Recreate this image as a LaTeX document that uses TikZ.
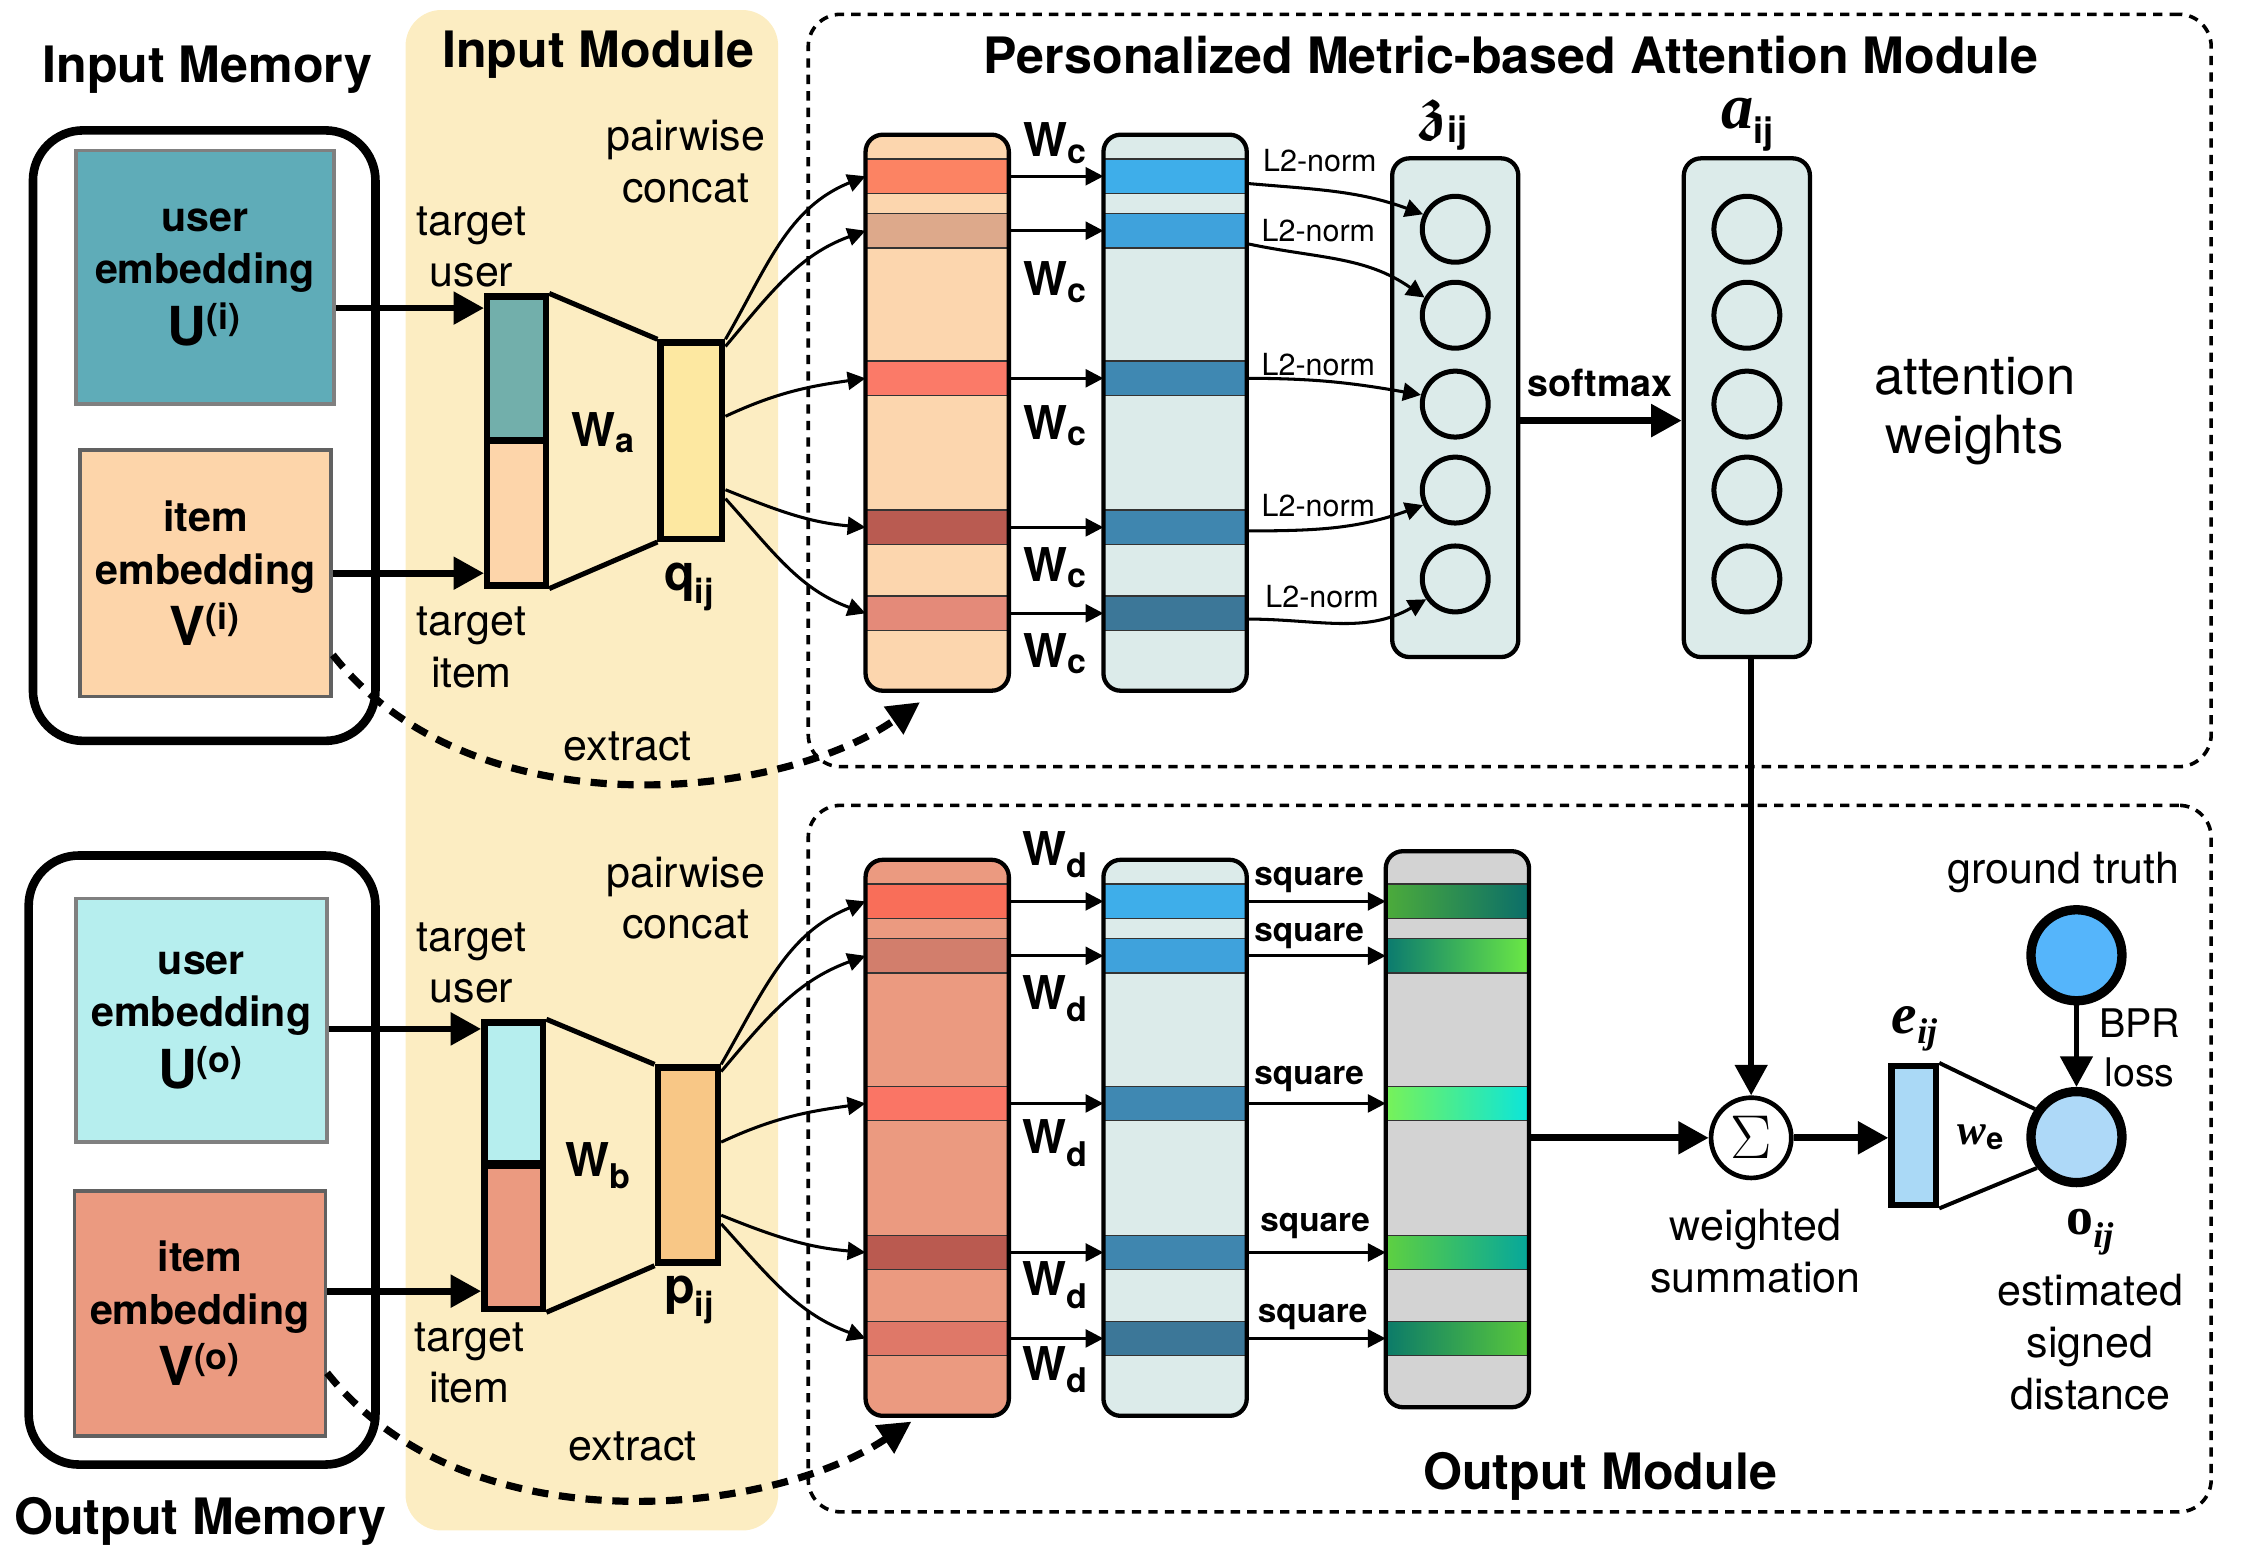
\documentclass[tikz,border=0pt]{standalone}
\usepackage{amsmath,amssymb}
\usepackage{fontspec}
\setmainfont{TeX Gyre Heros}
\newfontfamily\tms{Liberation Serif}
\usetikzlibrary{arrows.meta,calc,positioning}

\definecolor{inbg}{HTML}{FCEDC2}
\definecolor{uembi}{HTML}{5FACB8}
\definecolor{iembi}{HTML}{FDD5AA}
\definecolor{uembo}{HTML}{B6EEEE}
\definecolor{iembo}{HTML}{EB9A80}
\definecolor{cati}{HTML}{72AFAB}
\definecolor{qbar}{HTML}{FDE8A1}
\definecolor{pbar}{HTML}{F8C786}
\definecolor{keyA}{HTML}{FCD6AE}
\definecolor{paleblue}{HTML}{DCEBEA}
\definecolor{sqgray}{HTML}{D3D3D3}
\definecolor{a1c1}{HTML}{FC8363}
\definecolor{a1c2}{HTML}{DDA98B}
\definecolor{a1c3}{HTML}{FB7A68}
\definecolor{a1c4}{HTML}{B95B51}
\definecolor{a1c5}{HTML}{E48A79}
\definecolor{a2c1}{HTML}{F96E59}
\definecolor{a2c2}{HTML}{D27E6C}
\definecolor{a2c3}{HTML}{FA7565}
\definecolor{a2c4}{HTML}{BA5A50}
\definecolor{a2c5}{HTML}{DF7868}
\definecolor{bc1}{HTML}{3EAEEA}
\definecolor{bc2}{HTML}{3FA2DC}
\definecolor{bc3}{HTML}{3F88B2}
\definecolor{bc4}{HTML}{3F86AF}
\definecolor{bc5}{HTML}{3C7798}
\definecolor{g1l}{HTML}{4CAB3B}
\definecolor{g1r}{HTML}{0B6E69}
\definecolor{g2l}{HTML}{0B7A6F}
\definecolor{g2r}{HTML}{6BE845}
\definecolor{g3l}{HTML}{77F259}
\definecolor{g3r}{HTML}{0CE5D9}
\definecolor{g4l}{HTML}{5ED041}
\definecolor{g4r}{HTML}{06A79B}
\definecolor{g5l}{HTML}{0C7B69}
\definecolor{g5r}{HTML}{59C83B}
\definecolor{ebar}{HTML}{AAD9F6}
\definecolor{obar}{HTML}{AED9F8}
\definecolor{gtc}{HTML}{55B5FB}

\newcommand{\Wsub}[1]{{\fontsize{13}{13}\selectfont W}\textsubscript{\fontsize{9.5}{9.5}\selectfont #1}}
\newcommand{\vsym}[2]{{\fontsize{14}{14}\selectfont #1}\textsubscript{\fontsize{9.5}{9.5}\selectfont #2}}
\newcommand{\embsym}[2]{{\fontsize{15}{14}\selectfont #1}\textsuperscript{\fontsize{10}{10}\selectfont #2}}

\tikzset{
  memory/.style={draw, line width=2.4pt, rounded corners=14pt, minimum width=95.6pt, minimum height=170.4pt, inner sep=0pt},
  embed/.style={draw=black!50, line width=1pt, inner sep=0pt, align=center, font=\bfseries\fontsize{11.5}{14.6}\selectfont},
  column/.style={rounded corners=4.8pt, minimum width=39.6pt, minimum height=154.8pt, inner sep=0pt},
  stripe/.style={draw=black!80, line width=0.4pt, minimum width=39.6pt, minimum height=9.6pt, inner sep=0pt},
  neuron/.style={circle, draw, line width=1.4pt, minimum size=18.4pt, inner sep=0pt},
  vecbar/.style={draw, line width=1.8pt, inner sep=0pt, minimum width=16.4pt},
  module/.style={draw, line width=1pt, dash pattern=on 2.6pt off 2pt, rounded corners=9pt, minimum width=391.6pt, inner sep=0pt},
  thinarrow/.style={-{Triangle[length=5pt,width=5pt]}, line width=0.85pt},
  thickarrow/.style={-{Triangle[length=8.5pt,width=8.8pt]}, line width=1.9pt},
  extractarrow/.style={-{Triangle[length=9pt,width=9pt]}, line width=2pt, dash pattern=on 4.5pt off 3pt},
  title/.style={font=\bfseries\fontsize{14}{16}\selectfont, inner sep=1pt},
  lbl/.style={font=\fontsize{12}{14.4}\selectfont, align=center},
  wlbl/.style={font=\bfseries},
  l2lbl/.style={font=\fontsize{8.5}{8.5}\selectfont},
  sqlbl/.style={font=\bfseries\fontsize{9.3}{9.3}\selectfont}
}

\begin{document}
\begin{tikzpicture}[x=0.4pt, y=-0.4pt]
\useasboundingbox (0,0) rectangle (1568,1090);

% module backgrounds
\node[fill=inbg, rounded corners=10pt, minimum width=104pt, minimum height=424.4pt, inner sep=0pt] (inbgbox) at (413,537.5) {};
\node[module, minimum height=210pt] (attmod) at (1053.5,272.5) {};
\node[module, minimum height=197.2pt] (outmod) at (1053.5,808.5) {};
\node[title] (inmodt) at (417.5,38.2) {Input Module};
\node[title] (attmodt) at (1054.5,38.2) {Personalized Metric-based Attention Module};
\node[title] (outmodt) at (1116.5,1030) {Output Module};

% memories
\node[memory] (inmem) at (142.5,304) {};
\node[memory, minimum width=96.8pt, minimum height=170pt] (outmem) at (141,809.5) {};
\node[title] (inmemt) at (144.7,48.6) {Input Memory};
\node[title] (outmemt) at (139.6,1061.6) {Output Memory};
\node[embed, fill=uembi, minimum width=72pt, minimum height=70.8pt] (uembi) at (143,193.5) {user\\embedding\\[2.5pt]\embsym{U}{(i)}};
\node[embed, fill=iembi, draw=black!62, minimum width=70pt, minimum height=68.8pt] (iembi) at (143.5,400) {item\\embedding\\[2.5pt]\embsym{V}{(i)}};
\node[embed, fill=uembo, minimum width=70pt, minimum height=68pt] (uembo) at (140.5,712) {user\\embedding\\[2.5pt]\embsym{U}{(o)}};
\node[embed, fill=iembo, draw=black!62, minimum width=70pt, minimum height=68.4pt] (iembo) at (139.5,916.5) {item\\embedding\\[2.5pt]\embsym{V}{(o)}};

% input module
\node[lbl] (pci) at (478.5,112.7) {pairwise\\concat};
\node[lbl] (pco) at (478.5,626.8) {pairwise\\concat};
\node[lbl] (tui) at (329,172.3) {target\\user};
\node[lbl] (tii) at (329,452) {target\\item};
\node[lbl] (tuo) at (329,672) {target\\user};
\node[lbl] (tio) at (327.5,951) {target\\item};
\node[vecbar, fill=cati, minimum height=40pt] (cui) at (360.5,257) {};
\node[vecbar, fill=iembi, minimum height=40.4pt] (cli) at (360.5,358) {};
\node[vecbar, fill=qbar, minimum width=17.2pt, minimum height=54.8pt] (qv) at (482.5,307.5) {};
\node[vecbar, fill=uembo, minimum height=39.2pt] (cuo) at (358.5,762.5) {};
\node[vecbar, fill=iembo, minimum height=40pt] (clo) at (358.5,863.5) {};
\node[vecbar, fill=pbar, minimum width=16.8pt, minimum height=54.4pt] (pv) at (480,813) {};
\draw[line width=1.4pt] (cui.north east) -- (qv.north west) (cli.south east) -- (qv.south west);
\draw[line width=1.4pt] (cuo.north east) -- (pv.north west) (clo.south east) -- (pv.south west);
\node[wlbl] (wa) at (421.5,302) {\Wsub{a}};
\node[wlbl] (wb) at (417.6,813.4) {\Wsub{b}};
\node[wlbl] (qlbl) at (481.3,409.6) {\vsym{q}{ij}};
\node[wlbl] (plbl) at (481.4,907) {\vsym{p}{ij}};
\node[lbl] (exti) at (438,520.8) {extract};
\node[lbl] (exto) at (441.5,1009.6) {extract};

% key and value columns
\foreach \cx/\cy/\nm/\cf in {654/288/A1/keyA, 820/288/B1/paleblue, 654/794/A2/iembo, 820/794/B2/paleblue, 1017/788/C2/sqgray}
  \node[column, fill=\cf] (\nm) at (\cx,\cy) {};
\foreach \y/\ca/\cb [count=\i] in {123/a1c1/bc1, 161/a1c2/bc2, 264/a1c3/bc3, 368/a1c4/bc4, 428/a1c5/bc5} {
  \node[stripe, fill=\ca] (a1s\i) at (654,\y) {};
  \node[stripe, fill=\cb] (b1s\i) at (820,\y) {};
}
\foreach \y/\ca/\cb/\gl/\gr [count=\i] in {629/a2c1/bc1/g1l/g1r, 667/a2c2/bc2/g2l/g2r, 770/a2c3/bc3/g3l/g3r, 874/a2c4/bc4/g4l/g4r, 934/a2c5/bc5/g5l/g5r} {
  \node[stripe, fill=\ca] (a2s\i) at (654,\y) {};
  \node[stripe, fill=\cb] (b2s\i) at (820,\y) {};
  \node[stripe, left color=\gl, right color=\gr] (c2s\i) at (1017,\y) {};
}
\foreach \nm in {A1,B1,A2,B2,C2}
  \draw[line width=1.2pt, rounded corners=4.8pt] (\nm.north west) rectangle (\nm.south east);

% attention columns
\node[column, fill=paleblue, draw, line width=1.2pt, minimum width=35.2pt, minimum height=139.2pt] (zcol) at (1015.5,284.5) {};
\node[column, fill=paleblue, draw, line width=1.2pt, minimum width=35.2pt, minimum height=139.2pt] (acol) at (1219,284.5) {};
\foreach \y [count=\i] in {160,220,282,342,404} {
  \node[neuron] (zn\i) at (1015.5,\y) {};
  \node[neuron] (att\i) at (1219,\y) {};
}
\node[inner sep=0pt] (zlbl) at (1008,87) {{\fontsize{17}{17}\selectfont$\boldsymbol{\mathfrak{z}}$}\textsubscript{\bfseries\fontsize{10}{10}\selectfont ij}};
\node[inner sep=0pt] (albl) at (1220,87) {{\tms\bfseries\itshape\fontsize{18}{18}\selectfont a}\textsubscript{\bfseries\fontsize{10}{10}\selectfont ij}};
\node[lbl, font=\fontsize{14.7}{16.4}\selectfont] (attw) at (1378,287) {attention\\weights};

% W labels
\foreach \y [count=\i] in {100,197,297,396,456}
  \node[wlbl] (wc\i) at (737,\y) {\Wsub{c}};
\foreach \y [count=\i] in {596.4,697,797.7,896.8,955.7}
  \node[wlbl] (wd\i) at (737,\y) {\Wsub{d}};
\foreach \x/\y [count=\i] in {921/112, 920/161, 920/254.5, 920/353, 922.6/416.6}
  \node[l2lbl] (l2\i) at (\x,\y) {L2-norm};
\foreach \x/\y [count=\i] in {913.6/614, 913.6/653, 913.6/752.6, 917.7/855.6, 916/919}
  \node[sqlbl] (sq\i) at (\x,\y) {square};

% projections
\foreach \i in {1,...,5} {
  \draw[thinarrow] (a1s\i.east) -- (b1s\i.west);
  \draw[thinarrow] (a2s\i.east) -- (b2s\i.west);
  \draw[thinarrow] (b2s\i.east) -- (c2s\i.west);
}
\draw[thinarrow] (qv.north east) to[out=60,in=-158] (a1s1.west);
\draw[thinarrow] ([yshift=-2pt]qv.north east) to[out=50,in=-160] (a1s2.west);
\draw[thinarrow] ([yshift=6.8pt]qv.east) to[out=25,in=-172] (a1s3.west);
\draw[thinarrow] ([yshift=-13.7pt]qv.east) to[out=-22,in=175] (a1s4.west);
\draw[thinarrow] ([yshift=-16.2pt]qv.east) to[out=-48,in=160] (a1s5.west);
\draw[thinarrow] (pv.north east) to[out=60,in=-158] (a2s1.west);
\draw[thinarrow] ([yshift=-2pt]pv.north east) to[out=50,in=-160] (a2s2.west);
\draw[thinarrow] ([yshift=6.4pt]pv.east) to[out=25,in=-172] (a2s3.west);
\draw[thinarrow] ([yshift=-14pt]pv.east) to[out=-22,in=175] (a2s4.west);
\draw[thinarrow] ([yshift=-16.4pt]pv.east) to[out=-48,in=160] (a2s5.west);
\draw[thinarrow] ([yshift=-2pt]b1s1.east) to[out=-5,in=160] (zn1.155);
\draw[thinarrow] ([yshift=-3.6pt]b1s2.east) to[out=-12,in=145] (zn2.150);
\draw[thinarrow] (b1s3.east) to[out=0,in=170] (zn3.165);
\draw[thinarrow] ([yshift=-1pt]b1s4.east) to[out=0,in=-160] (zn4.205);
\draw[thinarrow] ([yshift=-1.6pt]b1s5.east) to[out=0,in=-150] (zn5.215);

% memory to module
\coordinate (uai) at ($(uembi.east)+(0,21.5)$);
\draw[thickarrow] (uai) -- (uai -| cui.west);
\draw[thickarrow] (iembi.east) -- (iembi.east -| cli.west);
\coordinate (uao) at ($(uembo.east)+(0,6)$);
\draw[thickarrow] (uao) -- (uao -| cuo.west);
\coordinate (iao) at ($(iembo.east)+(0,-15.5)$);
\draw[thickarrow] (iao) -- (iao -| clo.west);
\coordinate (exis) at ($(iembi.east)+(0,57)$);
\coordinate (exie) at ($(A1.south west)+(38,8)$);
\draw[extractarrow] (exis) .. controls +(97,123) and +(-100,70) .. (exie);
\coordinate (exos) at ($(iembo.east)+(0,41.5)$);
\coordinate (exoe) at ($(A2.south west)+(32,4)$);
\draw[extractarrow] (exos) .. controls +(97,122) and +(-100,67) .. (exoe);

% softmax
\coordinate (smx) at ($(zcol.east)+(0,9)$);
\draw[thickarrow] (smx) -- (smx -| acol.west);
\node[font=\bfseries\fontsize{10.5}{10.5}\selectfont] (smlbl) at (1116.6,267) {softmax};

% output head
\node[circle, draw, line width=1.3pt, minimum size=22.4pt, inner sep=0pt, font=\fontsize{17}{17}\selectfont] (sigma) at (1222,794) {$\Sigma$};
\draw[thickarrow, line width=1.7pt] (acol.south -| sigma.north) -- (sigma.north);
\coordinate (c2o) at ($(C2.east)+(0,6)$);
\draw[thickarrow] (c2o) -- (c2o -| sigma.west);
\node[vecbar, fill=ebar, minimum width=12.4pt, minimum height=38.8pt] (ev) at (1335.5,792.5) {};
\draw[thickarrow] (sigma.east) -- (sigma.east -| ev.west);
\node[circle, draw, line width=2.6pt, fill=obar, minimum size=25.4pt, inner sep=0pt] (oc) at (1449,793.5) {};
\node[circle, draw, line width=2.6pt, fill=gtc, minimum size=25.4pt, inner sep=0pt] (gt) at (1449,666.6) {};
\draw[line width=1.1pt] (ev.north east) -- (oc.146) (ev.south east) -- (oc.218);
\draw[thickarrow, line width=1.6pt] (gt.south) -- (oc.north);
\node (elbl) at (1336.6,718) {{\tms\bfseries\itshape\fontsize{16}{16}\selectfont e\textsubscript{\fontsize{10}{10}\selectfont ij}}};
\node (welbl) at (1382.6,793.5) {{\tms\bfseries\itshape\fontsize{12}{12}\selectfont w}\textsubscript{\bfseries\fontsize{8.5}{8.5}\selectfont e}};
\node (olbl) at (1459,860) {{\tms\bfseries\fontsize{15}{15}\selectfont o}\textsubscript{\tms\bfseries\itshape\fontsize{10}{10}\selectfont ij}};
\node[lbl] (wsum) at (1225,873) {weighted\\summation};
\node[lbl] (gtlbl) at (1440,608.6) {ground truth};
\node[lbl, font=\fontsize{11}{13.6}\selectfont] (bpr) at (1493,731.5) {BPR\\loss};
\node[lbl, font=\fontsize{12}{14.6}\selectfont] (esd) at (1458.6,936.5) {estimated\\signed\\distance};
\end{tikzpicture}
\end{document}
